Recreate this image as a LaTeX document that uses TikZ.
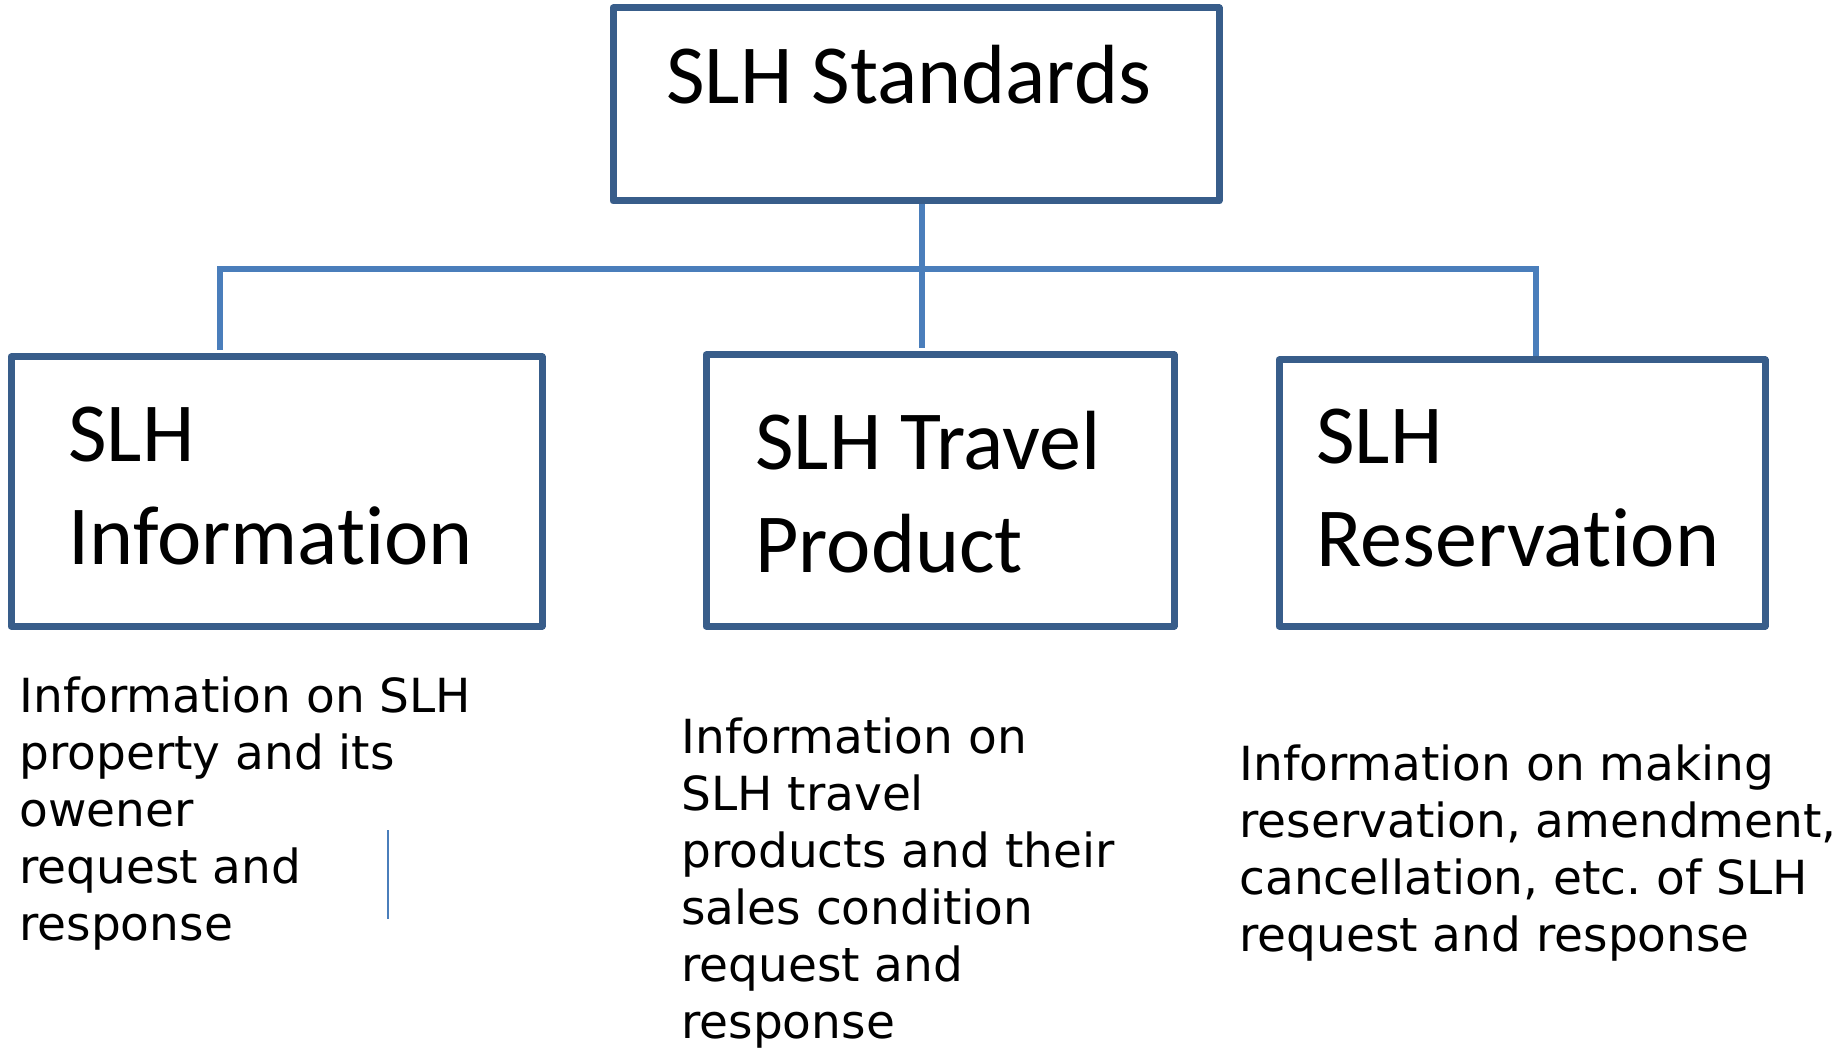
\documentclass[tikz,border=0pt]{standalone}
\usepackage{fontspec}
\setmainfont{Carlito}[Ligatures=CommonOff]
\newfontfamily\descfont{DejaVu Sans}
\usetikzlibrary{positioning}
\definecolor{boxline}{HTML}{385D8A}
\definecolor{linkblue}{HTML}{4A7EBB}
\tikzset{
  block/.style={draw=boxline, line width=3.5pt, line join=round, minimum width=#1, inner sep=0pt},
  title/.style={font=\fontsize{42pt}{51.5pt}\selectfont, align=left, inner sep=0pt, anchor=base west},
  desc/.style={font=\descfont\fontsize{23.5pt}{28.5pt}\selectfont, align=left, inner sep=0pt, anchor=base west},
  link/.style={draw=linkblue, line width=3pt},
  stray/.style={draw=linkblue, line width=0.8pt}
}

\begin{document}
\begin{tikzpicture}[x=0.5pt, y=-0.5pt]
  \useasboundingbox (0,0) rectangle (1845,1052);

  % Boxes
  \node[block=303pt, minimum height=96.5pt] (std) at (916,104.5) {};
  \node[block=265.5pt, minimum height=134.5pt] (info) at (276.5,491.5) {};
  \node[block=234pt, minimum height=135.5pt] (travel) at (940,490.5) {};
  \node[block=243pt, minimum height=133pt] (resv) at (1522,493) {};

  % Box titles (base = last line)
  \node[title] (stdtext) at (666,103.5) {SLH Standards};
  \node[title] (infotext) at (68,565) {SLH\\Information};
  \node[title] (traveltext) at (755,573) {SLH Travel\\Product};
  \node[title] (resvtext) at (1316,567) {SLH\\Reservation};

  % Bus between the top box and the three boxes
  \coordinate (stem) at (922,269);
  \coordinate (busL) at (220,269);
  \coordinate (busR) at (1536,269);
  \draw[link, shorten >=1.75pt] (stem |- std.south) -- (stem |- travel.north);
  \draw[link, shorten <=1.75pt] (busL |- info.north) -- (busL) -- (busR) -- (busR |- resv.north);

  % Descriptions
  \node[desc] (infodesc) at (19,940) {Information on SLH\\property and its\\owener\\request and\\response};
  \node[desc] (traveldesc) at (681,1038) {Information on\\SLH travel\\products and their\\sales condition\\request and\\response};
  \node[desc] (resvdesc) at (1239,951) {Information on making\\reservation, amendment,\\cancellation, etc.\ of SLH\\request and response};

  % Stray mark beside the first description
  \coordinate (strayTop) at (388,830);
  \coordinate (strayBot) at (388,919);
  \draw[stray] (strayTop) -- (strayBot);
\end{tikzpicture}
\end{document}
